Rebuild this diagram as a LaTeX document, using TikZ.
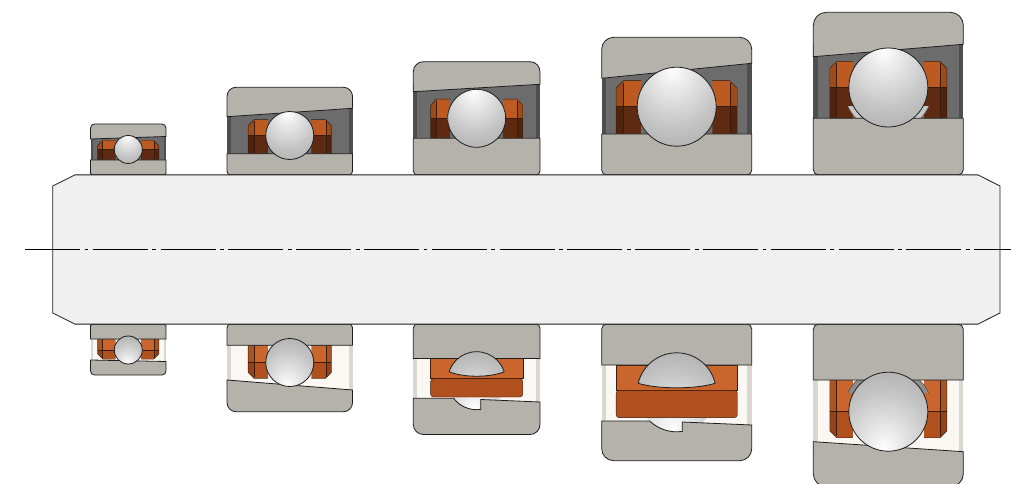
\documentclass[tikz,border=0pt]{standalone}
\usetikzlibrary{calc}

\definecolor{ringgray}{HTML}{B5B2AC}
\definecolor{gapdark}{HTML}{6C6C6C}
\definecolor{gapedge}{HTML}{4E4E4E}
\definecolor{gaplight}{HTML}{FBF8F4}
\definecolor{gaplightedge}{HTML}{DAD6D0}
\definecolor{cageor}{HTML}{BD5A22}
\definecolor{cagebrown}{HTML}{5E2B12}
\definecolor{cageorlt}{HTML}{C9652D}
\definecolor{cageordk}{HTML}{B0501E}
\definecolor{cageedge}{HTML}{3A1A0A}
\definecolor{shaftfill}{HTML}{F0F0F0}
\definecolor{outl}{HTML}{1E1E1E}

% steel ball shading, highlight above the centre
\pgfdeclareradialshading{ballup}{\pgfpoint{-3bp}{24bp}}{color(0bp)=(white); color(7bp)=(white!94!black); color(28bp)=(white!77!black); color(52bp)=(white!61!black); color(76bp)=(white!50!black)}
\pgfdeclareradialshading{balldn}{\pgfpoint{-3bp}{-24bp}}{color(0bp)=(white); color(7bp)=(white!94!black); color(28bp)=(white!77!black); color(52bp)=(white!61!black); color(76bp)=(white!50!black)}

\tikzset{
  ring/.style={fill=ringgray, draw=outl, line width=.8pt},
  cageline/.style={draw=cageedge, line width=.45pt},
  ballline/.style={draw=outl, line width=.8pt},
  shaftbody/.style={fill=shaftfill, draw=outl, line width=.8pt},
  axisline/.style={draw=black, line width=.8pt, dash pattern=on 55pt off 4.5pt on 3.8pt off 4.5pt},
}

% shaft radius
\def\bRs{74.6}

% bearing geometry: x-left, x-right, outer radius, outer raceway edge left/right,
% inner ring radius, ball pitch radius, ball radius, corner radius
\newcommand\bset[9]{%
  \def\bXl{#1}\def\bXr{#2}\def\bRo{#3}\def\bDL{#4}\def\bDR{#5}%
  \def\bRi{#6}\def\bDb{#7}\def\bRb{#8}\def\bRc{#9}%
  \pgfmathsetmacro\bXc{(#1+#2)/2}%
  \pgfmathsetmacro\bCi{0.9*#8}%
  \pgfmathsetmacro\bCo{0.9*#8+\bW}%
  \pgfmathsetmacro\bCt{#7+0.66*#8}%
  \pgfmathsetmacro\bCc{0.3*\bW}%
  \pgfmathsetmacro\bRr{0.4*#9}%
  \pgfmathsetmacro\bEs{0.03*(#2-#1)}%
  \pgfmathsetmacro\bGt{max(#4,#5)}%
}

\newcommand\outerring{%
  \filldraw[ring] (\bXl,\bDL) -- (\bXl,\bRo-\bRc) arc[start angle=180,end angle=90,radius=\bRc]
    -- (\bXr-\bRc,\bRo) arc[start angle=90,end angle=0,radius=\bRc] -- (\bXr,\bDR) -- cycle;}

\newcommand\innerring{%
  \filldraw[ring] (\bXl,\bRi) -- (\bXl,\bRs+\bRr) arc[start angle=180,end angle=270,radius=\bRr]
    -- (\bXr-\bRr,\bRs) arc[start angle=270,end angle=360,radius=\bRr] -- (\bXr,\bRi) -- cycle;}

\newcommand\ball{%
  \shade[shading=\bShade] (\bXc,\bDb) circle[radius=\bRb];
  \draw[ballline] (\bXc,\bDb) circle[radius=\bRb];}

% one cage pocket block beside the ball: #1 side, #2 outer colour, #3 inner colour
\newcommand\cageblock[3]{%
  \pgfmathsetmacro\bkI{\bXc+#1*\bCi}%
  \pgfmathsetmacro\bkO{\bXc+#1*\bCo}%
  \pgfmathsetmacro\bkC{\bXc+#1*(\bCo-\bCc)}%
  \pgfmathsetmacro\bkF{\bXc+#1*(\bCo-0.28*\bW)}%
  \begin{scope}
    \clip (\bkI,\bRi) -- (\bkO,\bRi) -- (\bkO,\bCt-\bCc) -- (\bkC,\bCt) -- (\bkI,\bCt) -- cycle;
    \fill[#2] (\bkO,\bDb) rectangle (\bkI,\bCt);
    \fill[#3] (\bkO,\bRi) rectangle (\bkI,\bDb);
    \fill[black,opacity=.16] (\bkO,\bRi) rectangle (\bkF,\bCt);
  \end{scope}
  \draw[cageline] (\bkI,\bRi) -- (\bkO,\bRi) -- (\bkO,\bCt-\bCc) -- (\bkC,\bCt) -- (\bkI,\bCt);
  \draw[cageline] (\bkO,\bDb) -- (\bkI,\bDb);
  \draw[cageline] (\bkF,\bRi) -- (\bkF,\bCt-0.3*\bCc);
}

% raceway groove of the inner ring seen beside the ball
\newcommand\groove[2]{%
  \begin{scope}
    \clip (\bXl,\bRi) rectangle (\bXr,\bRi+12);
    \filldraw[fill=#1,draw=#2,line width=.5pt] (\bXc,\bDb) circle[radius=\bRb+5];
  \end{scope}}

% side view, dark interior
\newcommand\bearingUp[1]{%
  \fill[gapdark] (\bXl,\bRi) rectangle (\bXr,\bGt+1);
  \fill[gapedge] (\bXl,\bRi) rectangle (\bXl+\bEs,\bGt);
  \fill[gapedge] (\bXr-\bEs,\bRi) rectangle (\bXr,\bGt);
  \cageblock{-1}{cageor}{cagebrown}\cageblock{1}{cageor}{cagebrown}
  #1
  \outerring\innerring\ball}

% side view, light interior
\newcommand\bearingDown[1]{%
  \fill[gaplight] (\bXl,\bRi) rectangle (\bXr,\bGt+1);
  \fill[gaplightedge] (\bXl,\bRi) rectangle (\bXl+\bEs,\bGt);
  \fill[gaplightedge] (\bXr-\bEs,\bRi) rectangle (\bXr,\bGt);
  \cageblock{-1}{cageordk}{cageorlt}\cageblock{1}{cageordk}{cageorlt}
  #1
  \outerring\innerring\ball}

% section through the cage
\newcommand\bearingCut{%
  \pgfmathsetmacro\bHw{sqrt(\bRb*\bRb-81)}%
  \pgfmathsetmacro\bXa{\bXc-sqrt(\bRb*\bRb-(\bDL-\bDb)*(\bDL-\bDb))}%
  \pgfmathsetmacro\bTa{180-asin((\bDL-\bDb)/\bRb)}%
  \pgfmathsetmacro\bXv{\bXc+0.139*\bRb}%
  \fill[gaplight] (\bXl,\bRi) rectangle (\bXr,\bGt+1);
  \fill[gaplightedge] (\bXl,\bRi) rectangle (\bXl+\bEs,\bGt);
  \fill[gaplightedge] (\bXr-\bEs,\bRi) rectangle (\bXr,\bGt);
  \begin{scope}
    \clip (\bXl,\bBb) rectangle (\bXr,\bRo);
    \shade[shading=\bShade] (\bXc,\bDb) circle[radius=\bRb];
  \end{scope}
  \filldraw[fill=cageorlt, cageline] (\bXc-\bCo,\bRi) rectangle (\bXc+\bCo,\bDb-2);
  \filldraw[fill=cageordk, cageline, rounded corners=3pt] (\bXc-\bCo,\bDb-2) rectangle (\bXc+\bCo,\bBb);
  \innerring
  \begin{scope}
    \clip (\bXl,0) -- (\bXr,0) -- (\bXr,\bDb-9) -- (\bXc+\bHw,\bDb-9)
      .. controls (\bXc+0.5*\bHw,\bDb-3) and (\bXc-0.5*\bHw,\bDb-3) .. (\bXc-\bHw,\bDb-9)
      -- (\bXl,\bDb-9) -- cycle;
    \shade[shading=\bShade] (\bXc,\bDb) circle[radius=\bRb];
    \draw[ballline] (\bXc,\bDb) circle[radius=\bRb];
  \end{scope}
  \draw[ballline] (\bXc+\bHw,\bDb-9)
      .. controls (\bXc+0.5*\bHw,\bDb-3) and (\bXc-0.5*\bHw,\bDb-3) .. (\bXc-\bHw,\bDb-9);
  \filldraw[ring] (\bXl,\bDL) -- (\bXa,\bDL) arc[start angle=\bTa,end angle=82,radius=\bRb]
    -- (\bXv,\bDM) -- (\bXr,\bDR) -- (\bXr,\bRo-\bRc) arc[start angle=0,end angle=90,radius=\bRc]
    -- (\bXl+\bRc,\bRo) arc[start angle=90,end angle=180,radius=\bRc] -- cycle;
}

\begin{document}
\begin{tikzpicture}[x=1pt,y=1pt]
\useasboundingbox (0,-234.5) rectangle (1011,249.5);
\fill[white] (0,-234.5) rectangle (1011,249.5);

% ---------- upper half ----------
\def\bShade{ballup}
\def\bW{18}\bset{90.5}{166}{125.5}{110.5}{113}{89.5}{100}{14}{4}\bearingUp{}
\def\bW{20}\bset{227}{352.5}{162.2}{132.8}{141.2}{95.8}{114}{24}{9}\bearingUp{}
\def\bW{20}\bset{413.3}{540}{187.8}{157.8}{165.2}{111.2}{131.2}{29}{10}\bearingUp{}
\def\bW{25}\bset{601.7}{751.7}{212.2}{171.2}{186.2}{115.5}{142.8}{39.5}{12}\bearingUp{}
\def\bW{23}\bset{813.3}{963.3}{237.2}{192.8}{205.2}{131.2}{162}{39.5}{13}\bearingUp{\groove{black!22}{black!55}}

% ---------- lower half ----------
\begin{scope}[yscale=-1]
\def\bShade{balldn}
\def\bW{18}\bset{90.5}{166}{125.5}{110.5}{112}{89.5}{100.5}{14}{4}\bearingDown{}
\def\bW{20}\bset{227}{352.5}{162.2}{130.5}{140.5}{95.8}{113}{24}{9}\bearingDown{}
\def\bW{20}\bset{413.3}{540}{185}{148.8}{152.5}{109}{131.2}{29}{10}\def\bDM{150}\def\bBb{147.5}\bearingCut
\def\bW{25}\bset{601.7}{751.7}{211.2}{171.5}{175.5}{115.5}{142.8}{39.5}{12}\def\bDM{172.5}\def\bBb{168.2}\bearingCut
\def\bW{23}\bset{813.3}{963.3}{237.2}{192.2}{202.2}{130.5}{162.2}{39.5}{13}\bearingDown{\groove{black!45}{black!70}}
\end{scope}

% ---------- shaft ----------
\filldraw[shaftbody] (75,74.6) -- (978,74.6) -- (1000,63.5) -- (1000,-63.5) -- (978,-74.6)
  -- (75,-74.6) -- (52.7,-63.5) -- (52.7,63.5) -- cycle;

% centre line
\coordinate (axisL) at (25,0);
\coordinate (axisR) at (1011,0);
\draw[axisline] (axisL) -- (axisR);
\end{tikzpicture}
\end{document}
